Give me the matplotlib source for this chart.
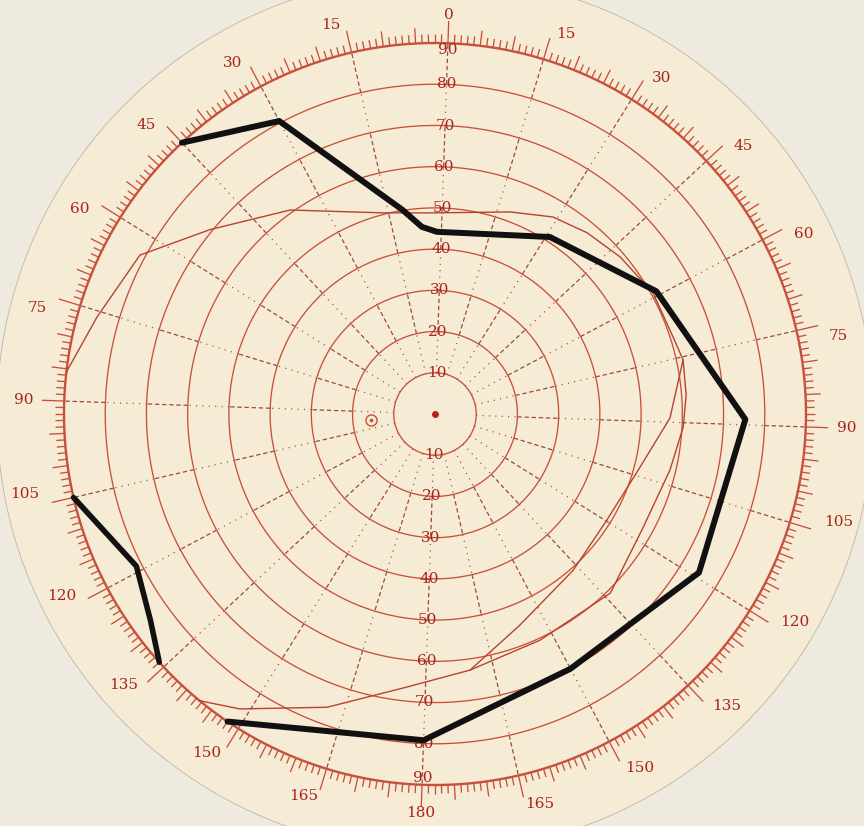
import numpy as np
import matplotlib.pyplot as plt

# eccentricity rings (degrees from fixation) and meridians every 15 degrees
rings = [10, 20, 30, 40, 50, 60, 70, 80, 90]
meridians = list(range(0, 360, 15))
rim_labels = ["0", "15", "30", "45", "60", "75", "90", "105", "120", "135", "150", "165",
              "180", "165", "150", "135", "120", "105", "90", "75", "60", "45", "30", "15"]

# recorded field for white (thick line): meridian clockwise from top, eccentricity
field_theta = [315, 330, 349, 354, 358.6, 31, 59, 89, 119, 150, 180, 212]
field_r = [90, 80.5, 50.1, 45.5, 44.2, 51.2, 61.4, 75.3, 74.7, 70.0, 79.2, 90]

# detached piece of the field on the lower temporal side
island_theta = [255, 241, 232, 226]
island_r = [90, 81.3, 85.3, 90]

# field for colour (thin red line)
color_theta = [274.5, 284, 296.3, 307.3, 322.6, 343.5, 356.6, 18.4, 28.9, 38.0, 47.7,
               59.0, 70.1, 75.7, 83.7, 91.0, 101.4, 116.5, 133.6, 153.1, 170.2, 183.9,
               198.2, 211.5, 217.4]
color_r = [90, 85.3, 81.3, 70.6, 60.7, 50.4, 48.8, 52.3, 55.7, 57.4, 58.9,
           60.5, 60.7, 61.6, 61.1, 60.3, 58.6, 57.5, 60.8, 60.5, 62.7, 66.6,
           75.8, 85.8, 90]
inner_theta = [75.7, 89.0, 104.0, 119.6, 136.5, 156.1, 170.2]
inner_r = [61.6, 57.0, 51.0, 49.0, 50.6, 55.2, 62.7]

# blind spot position
spot_theta, spot_r = 262.7, 15.7

red = "#c8503a"
ink = "#a8231a"
dash = "#9c4a3a"
paper = "#f6ecd6"

fig = plt.figure(figsize=(8.64, 8.26), dpi=100, facecolor="#eeeadf")
ax = fig.add_axes([0.07407, 0.04964, 0.8588, 0.8983], projection="polar")
ax.set_theta_zero_location("N", offset=-2)
ax.set_theta_direction(-1)
ax.set_ylim(0, 90)
ax.axis("off")

full = np.linspace(0, 2 * np.pi, 721)

# the card
ax.fill(full, np.full_like(full, 106.3), color=paper, zorder=0, clip_on=False)
ax.plot(full, np.full_like(full, 106.3), color="#c4bcac", lw=0.7, zorder=0.5, clip_on=False)

# rings
for r in rings:
    ax.plot(full, np.full_like(full, r), color=red,
            lw=1.7 if r == 90 else 0.95, zorder=2, clip_on=False)

# meridians: dashed and dotted in alternate ring bands
th = np.radians(meridians)
for k in range(1, 9):
    style = (0, (3.5, 2.2)) if k % 2 == 0 else (0, (0.9, 4.2))
    ax.vlines(th, k * 10, (k + 1) * 10, colors=dash, linestyles=[style],
              lw=0.9, zorder=1.5)

# rim scale, one tick per degree
deg = np.arange(360)
tick_len = np.where(deg % 15 == 0, 5.4, np.where(deg % 5 == 0, 3.7, 2.1))
ax.vlines(np.radians(deg), 90, 90 + tick_len, colors=red, lw=0.95,
          zorder=2, clip_on=False)

for a, s in zip(meridians, rim_labels):
    shift = 0 if a % 90 == 0 else (2 if (a % 180) < 90 else -2)
    rr = 96.8 + 1.55 * len(s) * abs(np.sin(np.radians(a)))
    ax.text(np.radians(a + shift), rr, s, ha="center", va="center",
            color=ink, fontsize=11, family="DejaVu Serif", clip_on=False)

# ring numbers up and down the vertical meridian
for r in rings:
    rr = 88.4 if r == 90 else r
    for a in (0, 180):
        ax.text(np.radians(a), rr, str(r), ha="center", va="center",
                color=ink, fontsize=11, family="DejaVu Serif", zorder=3)

# fields
ax.plot(np.radians(color_theta), color_r, color="#b8432c", lw=1.0, zorder=3, clip_on=False)
ax.plot(np.radians(inner_theta), inner_r, color="#b8432c", lw=1.0, zorder=3)
ax.plot(np.radians(field_theta), field_r, color="#111111", lw=4.3, zorder=4,
        solid_joinstyle="round", solid_capstyle="round", clip_on=False)
ax.plot(np.radians(island_theta), island_r, color="#111111", lw=4.0, zorder=4,
        solid_joinstyle="round", solid_capstyle="round", clip_on=False)

# fixation point and blind spot
ax.plot([0], [0], "o", color="#c0201a", ms=4, zorder=5)
ax.plot([np.radians(spot_theta)], [spot_r], "o", mfc="none", mec=red, ms=8, mew=1.0, zorder=5)
ax.plot([np.radians(spot_theta)], [spot_r], "o", color=red, ms=1.6, zorder=5)

fig.savefig("out.png", dpi=100, facecolor=fig.get_facecolor())
